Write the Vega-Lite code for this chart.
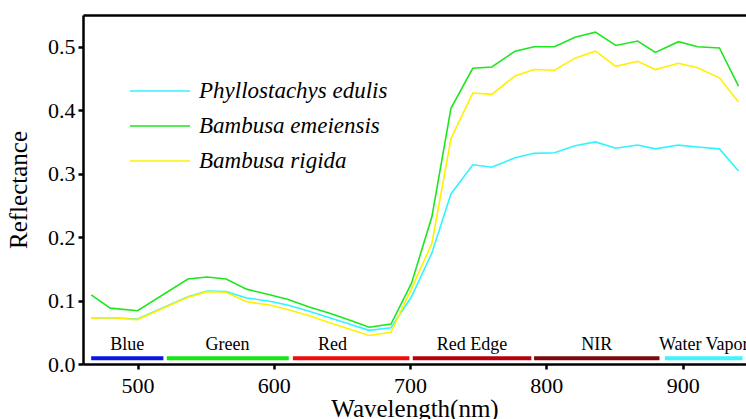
{
  "$schema": "https://vega.github.io/schema/vega-lite/v6.json",
  "width": 663,
  "height": 349,
  "autosize": "none",
  "padding": {"left": 83, "top": 15, "right": 0, "bottom": 55},
  "background": "white",
  "config": {
    "view": {"stroke": null},
    "axis": {
      "domainColor": "black", "domainWidth": 2.5, "tickColor": "black", "tickWidth": 2.5, "tickSize": 5,
      "labelFont": "Liberation Serif", "labelFontSize": 22, "labelColor": "black",
      "titleFont": "Liberation Serif", "titleFontSize": 25, "titleFontWeight": "normal", "titleColor": "black",
      "grid": false
    },
    "legend": {"labelFont": "Liberation Serif", "labelColor": "black"}
  },
  "datasets": {
    "spectra": [
      {"wl": 466, "species": "Phyllostachys edulis", "r": 0.072},
      {"wl": 480, "species": "Phyllostachys edulis", "r": 0.073},
      {"wl": 500, "species": "Phyllostachys edulis", "r": 0.071},
      {"wl": 537, "species": "Phyllostachys edulis", "r": 0.106},
      {"wl": 551, "species": "Phyllostachys edulis", "r": 0.115},
      {"wl": 565, "species": "Phyllostachys edulis", "r": 0.114},
      {"wl": 580, "species": "Phyllostachys edulis", "r": 0.104},
      {"wl": 597, "species": "Phyllostachys edulis", "r": 0.099},
      {"wl": 610, "species": "Phyllostachys edulis", "r": 0.093},
      {"wl": 626, "species": "Phyllostachys edulis", "r": 0.083},
      {"wl": 641, "species": "Phyllostachys edulis", "r": 0.073},
      {"wl": 657, "species": "Phyllostachys edulis", "r": 0.062},
      {"wl": 670, "species": "Phyllostachys edulis", "r": 0.053},
      {"wl": 686, "species": "Phyllostachys edulis", "r": 0.057},
      {"wl": 701, "species": "Phyllostachys edulis", "r": 0.106},
      {"wl": 716, "species": "Phyllostachys edulis", "r": 0.175},
      {"wl": 730, "species": "Phyllostachys edulis", "r": 0.268},
      {"wl": 746, "species": "Phyllostachys edulis", "r": 0.314},
      {"wl": 760, "species": "Phyllostachys edulis", "r": 0.310},
      {"wl": 777, "species": "Phyllostachys edulis", "r": 0.325},
      {"wl": 791, "species": "Phyllostachys edulis", "r": 0.332},
      {"wl": 806, "species": "Phyllostachys edulis", "r": 0.333},
      {"wl": 821, "species": "Phyllostachys edulis", "r": 0.344},
      {"wl": 836, "species": "Phyllostachys edulis", "r": 0.350},
      {"wl": 851, "species": "Phyllostachys edulis", "r": 0.340},
      {"wl": 867, "species": "Phyllostachys edulis", "r": 0.345},
      {"wl": 880, "species": "Phyllostachys edulis", "r": 0.339},
      {"wl": 897, "species": "Phyllostachys edulis", "r": 0.345},
      {"wl": 911, "species": "Phyllostachys edulis", "r": 0.342},
      {"wl": 927, "species": "Phyllostachys edulis", "r": 0.339},
      {"wl": 941, "species": "Phyllostachys edulis", "r": 0.304},
      {"wl": 466, "species": "Bambusa emeiensis", "r": 0.109},
      {"wl": 480, "species": "Bambusa emeiensis", "r": 0.088},
      {"wl": 500, "species": "Bambusa emeiensis", "r": 0.084},
      {"wl": 537, "species": "Bambusa emeiensis", "r": 0.134},
      {"wl": 551, "species": "Bambusa emeiensis", "r": 0.137},
      {"wl": 565, "species": "Bambusa emeiensis", "r": 0.134},
      {"wl": 580, "species": "Bambusa emeiensis", "r": 0.118},
      {"wl": 597, "species": "Bambusa emeiensis", "r": 0.109},
      {"wl": 610, "species": "Bambusa emeiensis", "r": 0.102},
      {"wl": 626, "species": "Bambusa emeiensis", "r": 0.090},
      {"wl": 641, "species": "Bambusa emeiensis", "r": 0.080},
      {"wl": 657, "species": "Bambusa emeiensis", "r": 0.068},
      {"wl": 670, "species": "Bambusa emeiensis", "r": 0.058},
      {"wl": 686, "species": "Bambusa emeiensis", "r": 0.063},
      {"wl": 701, "species": "Bambusa emeiensis", "r": 0.127},
      {"wl": 716, "species": "Bambusa emeiensis", "r": 0.232},
      {"wl": 730, "species": "Bambusa emeiensis", "r": 0.403},
      {"wl": 746, "species": "Bambusa emeiensis", "r": 0.466},
      {"wl": 760, "species": "Bambusa emeiensis", "r": 0.468},
      {"wl": 777, "species": "Bambusa emeiensis", "r": 0.493},
      {"wl": 791, "species": "Bambusa emeiensis", "r": 0.500},
      {"wl": 806, "species": "Bambusa emeiensis", "r": 0.500},
      {"wl": 821, "species": "Bambusa emeiensis", "r": 0.515},
      {"wl": 836, "species": "Bambusa emeiensis", "r": 0.523},
      {"wl": 851, "species": "Bambusa emeiensis", "r": 0.502},
      {"wl": 867, "species": "Bambusa emeiensis", "r": 0.509},
      {"wl": 880, "species": "Bambusa emeiensis", "r": 0.491},
      {"wl": 897, "species": "Bambusa emeiensis", "r": 0.508},
      {"wl": 911, "species": "Bambusa emeiensis", "r": 0.500},
      {"wl": 927, "species": "Bambusa emeiensis", "r": 0.498},
      {"wl": 941, "species": "Bambusa emeiensis", "r": 0.438},
      {"wl": 466, "species": "Bambusa rigida", "r": 0.072},
      {"wl": 480, "species": "Bambusa rigida", "r": 0.073},
      {"wl": 500, "species": "Bambusa rigida", "r": 0.070},
      {"wl": 537, "species": "Bambusa rigida", "r": 0.105},
      {"wl": 551, "species": "Bambusa rigida", "r": 0.114},
      {"wl": 565, "species": "Bambusa rigida", "r": 0.113},
      {"wl": 580, "species": "Bambusa rigida", "r": 0.098},
      {"wl": 597, "species": "Bambusa rigida", "r": 0.093},
      {"wl": 610, "species": "Bambusa rigida", "r": 0.086},
      {"wl": 626, "species": "Bambusa rigida", "r": 0.076},
      {"wl": 641, "species": "Bambusa rigida", "r": 0.065},
      {"wl": 657, "species": "Bambusa rigida", "r": 0.054},
      {"wl": 670, "species": "Bambusa rigida", "r": 0.045},
      {"wl": 686, "species": "Bambusa rigida", "r": 0.050},
      {"wl": 701, "species": "Bambusa rigida", "r": 0.118},
      {"wl": 716, "species": "Bambusa rigida", "r": 0.190},
      {"wl": 730, "species": "Bambusa rigida", "r": 0.355},
      {"wl": 746, "species": "Bambusa rigida", "r": 0.427},
      {"wl": 760, "species": "Bambusa rigida", "r": 0.425},
      {"wl": 777, "species": "Bambusa rigida", "r": 0.454},
      {"wl": 791, "species": "Bambusa rigida", "r": 0.464},
      {"wl": 806, "species": "Bambusa rigida", "r": 0.463},
      {"wl": 821, "species": "Bambusa rigida", "r": 0.482},
      {"wl": 836, "species": "Bambusa rigida", "r": 0.493},
      {"wl": 851, "species": "Bambusa rigida", "r": 0.469},
      {"wl": 867, "species": "Bambusa rigida", "r": 0.477},
      {"wl": 880, "species": "Bambusa rigida", "r": 0.464},
      {"wl": 897, "species": "Bambusa rigida", "r": 0.474},
      {"wl": 911, "species": "Bambusa rigida", "r": 0.467},
      {"wl": 927, "species": "Bambusa rigida", "r": 0.451},
      {"wl": 941, "species": "Bambusa rigida", "r": 0.413}
    ],
    "bands": [
      {"band": "Blue", "start": 466, "end": 519, "center": 492.5, "level": 0.009, "labelLevel": 0.022},
      {"band": "Green", "start": 521.5, "end": 611, "center": 566, "level": 0.009, "labelLevel": 0.022},
      {"band": "Red", "start": 614, "end": 699.5, "center": 643, "level": 0.009, "labelLevel": 0.022},
      {"band": "Red Edge", "start": 702, "end": 789, "center": 745.5, "level": 0.009, "labelLevel": 0.022},
      {"band": "NIR", "start": 791, "end": 883, "center": 837, "level": 0.009, "labelLevel": 0.022},
      {"band": "Water Vapor", "start": 887, "end": 944, "center": 915.5, "level": 0.009, "labelLevel": 0.022}
    ]
  },
  "layer": [
    {
      "data": {"name": "bands"},
      "mark": {"type": "rule", "strokeWidth": 4},
      "encoding": {
        "x": {"field": "start", "type": "quantitative", "scale": {"domain": [460, 946.5], "nice": false, "zero": false},
          "axis": {"orient": "bottom", "values": [500, 600, 700, 800, 900], "title": "Wavelength(nm)", "labelPadding": 6, "titlePadding": 0}},
        "x2": {"field": "end"},
        "y": {"field": "level", "type": "quantitative", "scale": {"domain": [0, 0.55], "nice": false},
          "axis": {"values": [0, 0.1, 0.2, 0.3, 0.4, 0.5], "format": ".1f", "title": "Reflectance", "labelPadding": 3, "titlePadding": 16}},
        "color": {"field": "band", "type": "nominal", "legend": null,
          "scale": {"domain": ["Blue", "Green", "Red", "Red Edge", "NIR", "Water Vapor"],
            "range": ["#0a14e6", "#14e614", "#f20a0a", "#b8000c", "#7c0a0a", "#3ef4ff"]}}
      }
    },
    {
      "data": {"name": "bands"},
      "mark": {"type": "text", "font": "Liberation Serif", "fontSize": 18, "color": "black", "baseline": "alphabetic", "align": "center"},
      "encoding": {
        "x": {"field": "center", "type": "quantitative", "axis": null},
        "y": {"field": "labelLevel", "type": "quantitative"},
        "text": {"field": "band"}
      }
    },
    {
      "data": {"name": "spectra"},
      "mark": {"type": "line", "strokeWidth": 1.6},
      "encoding": {
        "x": {"field": "wl", "type": "quantitative",
          "axis": {"orient": "top", "labels": false, "ticks": false, "title": null, "domainWidth": 2.5}},
        "y": {"field": "r", "type": "quantitative"},
        "color": {"field": "species", "type": "nominal", "sort": null,
          "scale": {"domain": ["Phyllostachys edulis", "Bambusa emeiensis", "Bambusa rigida"], "range": ["#30f4ff", "#1ee61e", "#fff000"]},
          "legend": {"orient": "none", "legendX": 61, "legendY": 60, "title": null,
            "symbolType": "M-2,0H2", "symbolSize": 900, "symbolStrokeWidth": 1.6,
            "labelFont": "Liberation Serif", "labelFontSize": 23, "labelFontStyle": "italic", "labelColor": "black",
            "labelOffset": 23, "labelLimit": 400, "rowPadding": 7}}
      }
    }
  ],
  "resolve": {"scale": {"color": "independent"}, "axis": {"x": "independent"}}
}
